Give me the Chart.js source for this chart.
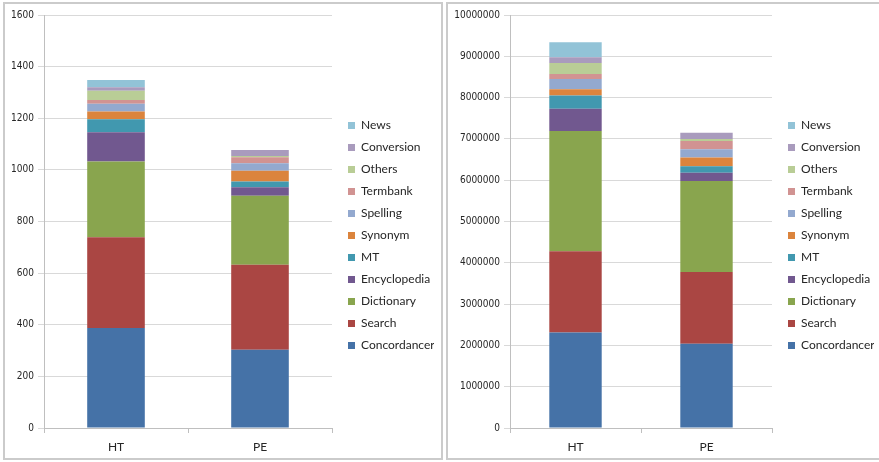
<!DOCTYPE html>
<html lang="en">
<head>
  <meta charset="UTF-8" />
  <title>Tool usage: HT vs PE</title>
  <script src="https://cdn.jsdelivr.net/npm/chart.js"></script>
  <style>
    body {
      margin: 0;
      padding: 0;
      background: #fff;
      width: 879px;
      height: 462px;
      overflow: hidden;
      position: relative;
    }

    .panel {
      position: absolute;
      top: 2px;
      height: 454px;
      border: 2px solid #cbcbcb;
      background: #fff;
    }

    #leftPanel { left: 3px; width: 436px; }
    #rightPanel { left: 446px; width: 431px; }

    canvas {
      display: block;
    }
  </style>
</head>
<body>

  <div class="panel" id="leftPanel"><canvas id="queryChart" width="436" height="454"></canvas></div>
  <div class="panel" id="rightPanel"><canvas id="charChart" width="431" height="454"></canvas></div>

  <script>
    const categories = ['HT', 'PE'];
    const seriesNames = ['Concordancer', 'Search', 'Dictionary', 'Encyclopedia', 'MT', 'Synonym',
                         'Spelling', 'Termbank', 'Others', 'Conversion', 'News'];
    const seriesColors = ['#4572a7', '#aa4643', '#89a54e', '#71588f', '#4198af', '#db843d',
                          '#93a9cf', '#d19392', '#b9cd96', '#a99bbd', '#92c3d7'];

    // number of queries per tool
    const queriesHT = [387, 352, 293, 114, 50, 30, 30, 15, 36, 13, 28];
    const queriesPE = [303, 329, 268, 33, 22, 42, 29, 23, 5, 23, 0];

    // characters per tool
    const charsHT = [2310000, 1970000, 2910000, 540000, 320000, 150000, 250000, 120000, 270000, 140000, 360000];
    const charsPE = [2040000, 1740000, 2200000, 200000, 160000, 210000, 200000, 200000, 50000, 150000, 0];

    const queryTicks = { max: 1600, step: 200 };
    const charTicks = { max: 10000000, step: 1000000 };

    const tickFont = { family: "'Liberation Sans Narrow', 'DejaVu Sans Condensed', sans-serif", size: 10 };
    const labelFont = { family: 'Lato, sans-serif', size: 12 };

    // leave a small gap between the plot and the legend
    const legendGap = {
      id: 'legendGap',
      afterLayout(chart) {
        chart.legend.left += 6;
        chart.legend.right += 6;
        chart.legend.top -= 1;
        chart.legend.bottom -= 1;
      }
    };

    function buildDatasets(htValues, peValues) {
      return seriesNames.map((name, i) => ({
        label: name,
        data: [htValues[i], peValues[i]],
        backgroundColor: seriesColors[i],
        borderWidth: 0,
        categoryPercentage: 1,
        barPercentage: 0.4
      }));
    }

    function createStackedChart(ctx, htValues, peValues, ticks, axisWidth, padRight) {
      return new Chart(ctx, {
        type: 'bar',
        data: {
          labels: categories,
          datasets: buildDatasets(htValues, peValues)
        },
        options: {
          responsive: false,
          animation: false,
          layout: { padding: { top: 11, right: padRight, bottom: 0, left: 0 } },
          scales: {
            x: {
              stacked: true,
              grid: {
                offset: true,
                drawOnChartArea: false,
                drawTicks: true,
                tickLength: 5,
                color: '#bfbfbf'
              },
              border: { color: '#bfbfbf' },
              ticks: { color: '#262626', font: labelFont, padding: 7 },
              afterFit(scale) { scale.height = 30; }
            },
            y: {
              stacked: true,
              min: 0,
              max: ticks.max,
              grid: { color: '#d9d9d9', tickLength: 6 },
              border: { color: '#bfbfbf' },
              ticks: {
                stepSize: ticks.step,
                color: '#262626',
                font: tickFont,
                padding: 4,
                callback: value => String(value)
              },
              afterFit(scale) { scale.width = axisWidth; }
            }
          },
          plugins: {
            legend: {
              position: 'right',
              reverse: true,
              maxWidth: 96,
              labels: {
                boxWidth: 7,
                boxHeight: 7,
                padding: 10,
                color: '#262626',
                font: labelFont
              }
            },
            tooltip: { enabled: false }
          }
        },
        plugins: [legendGap]
      });
    }

    createStackedChart(document.getElementById('queryChart').getContext('2d'),
                       queriesHT, queriesPE, queryTicks, 39, 13);
    createStackedChart(document.getElementById('charChart').getContext('2d'),
                       charsHT, charsPE, charTicks, 62, 11);
  </script>

</body>
</html>
